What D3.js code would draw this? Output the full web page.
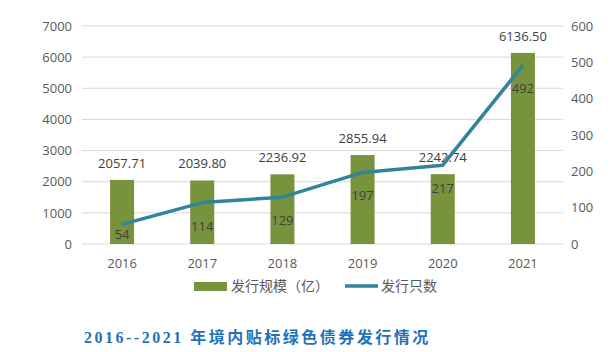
<!DOCTYPE html>
<html>
<head>
  <meta charset="UTF-8">
  <script src="https://d3js.org/d3.v7.min.js"></script>
  <style>
    body { margin: 0; background: #fff; }
    text { font-family: "Open Sans", "Noto Sans CJK SC", sans-serif; }
  </style>
</head>
<body>
  <svg id="chart" width="613" height="352"></svg>
  <script>
    const years = ["2016", "2017", "2018", "2019", "2020", "2021"];
    const scale = [2057.71, 2039.80, 2236.92, 2855.94, 2242.74, 6136.50];
    const counts = [54, 114, 129, 197, 217, 492];
    const leftTicks = [0, 1000, 2000, 3000, 4000, 5000, 6000, 7000];
    const rightTicks = [0, 100, 200, 300, 400, 500, 600];

    const svg = d3.select("#chart");
    const plotL = 82, plotR = 563, plotT = 26, plotB = 244;

    const x = d3.scaleBand().domain(years).range([plotL, plotR]);
    const yL = d3.scaleLinear().domain([0, 7000]).range([plotB, plotT]);
    const yR = d3.scaleLinear().domain([0, 600]).range([plotB, plotT]);

    // grid
    svg.append("g").selectAll("line")
      .data(leftTicks)
      .join("line")
      .attr("x1", plotL).attr("x2", plotR)
      .attr("y1", d => yL(d)).attr("y2", d => yL(d))
      .attr("stroke", "#d9d9d9").attr("stroke-width", 1);

    // axes
    const axL = svg.append("g")
      .attr("transform", `translate(${plotL - 6},0)`)
      .call(d3.axisLeft(yL).tickValues(leftTicks).tickFormat(d3.format("d")).tickSize(0).tickPadding(4));
    const axR = svg.append("g")
      .attr("transform", `translate(${plotR + 4},0)`)
      .call(d3.axisRight(yR).tickValues(rightTicks).tickSize(0).tickPadding(4));
    const axB = svg.append("g")
      .attr("transform", `translate(0,${plotB + 13})`)
      .call(d3.axisBottom(x).tickSize(0).tickPadding(2));
    [axL, axR, axB].forEach(a => {
      a.select(".domain").remove();
      a.selectAll("text").attr("fill", "#595959").style("font-size", "13px")
        .style("font-family", "'Open Sans', sans-serif");
    });

    // bars
    const bw = 24;
    svg.append("g").selectAll("rect")
      .data(years)
      .join("rect")
      .attr("x", d => x(d) + x.bandwidth() / 2 - bw / 2)
      .attr("width", bw)
      .attr("y", (d, i) => yL(scale[i]))
      .attr("height", (d, i) => plotB - yL(scale[i]))
      .attr("fill", "#77933c");

    // bar labels
    svg.append("g").selectAll("text")
      .data(years)
      .join("text")
      .attr("x", d => x(d) + x.bandwidth() / 2)
      .attr("y", (d, i) => yL(scale[i]) - 12)
      .attr("text-anchor", "middle")
      .attr("fill", "#404040")
      .style("font-size", "13px")
      .text((d, i) => scale[i].toFixed(2));

    // line
    const line = d3.line()
      .x(d => x(d.year) + x.bandwidth() / 2)
      .y(d => yR(d.v));
    const pts = years.map((y, i) => ({ year: y, v: counts[i] }));
    svg.append("path")
      .datum(pts)
      .attr("d", line)
      .attr("fill", "none")
      .attr("stroke", "#31849b")
      .attr("stroke-width", 3.5)
      .attr("stroke-linejoin", "round");

    // line labels
    svg.append("g").selectAll("text")
      .data(pts)
      .join("text")
      .attr("x", d => x(d.year) + x.bandwidth() / 2)
      .attr("y", d => Math.min(yR(d.v) + 28, 239))
      .attr("text-anchor", "middle")
      .attr("fill", "#404040")
      .style("font-size", "13px")
      .text(d => d.v);

    // legend
    const lg = svg.append("g").attr("transform", "translate(0,286)");
    lg.append("rect").attr("x", 194).attr("y", -4).attr("width", 33).attr("height", 9).attr("fill", "#77933c");
    lg.append("text").attr("x", 231).attr("y", 5).attr("fill", "#595959")
      .style("font-size", "14px").text("发行规模（亿）");
    lg.append("line").attr("x1", 345).attr("x2", 378).attr("y1", 0).attr("y2", 0)
      .attr("stroke", "#31849b").attr("stroke-width", 3.5);
    lg.append("text").attr("x", 381).attr("y", 5).attr("fill", "#595959")
      .style("font-size", "14px").text("发行只数");

    // title
    svg.append("text")
      .attr("x", 84).attr("y", 343)
      .attr("fill", "#1f72b8")
      .style("font-size", "16px")
      .style("font-weight", "bold")
      .style("letter-spacing", "2.5px")
      .style("font-family", "'Liberation Serif', 'Noto Sans CJK SC', serif")
      .text("2016--2021 年境内贴标绿色债券发行情况");
  </script>
</body>
</html>
